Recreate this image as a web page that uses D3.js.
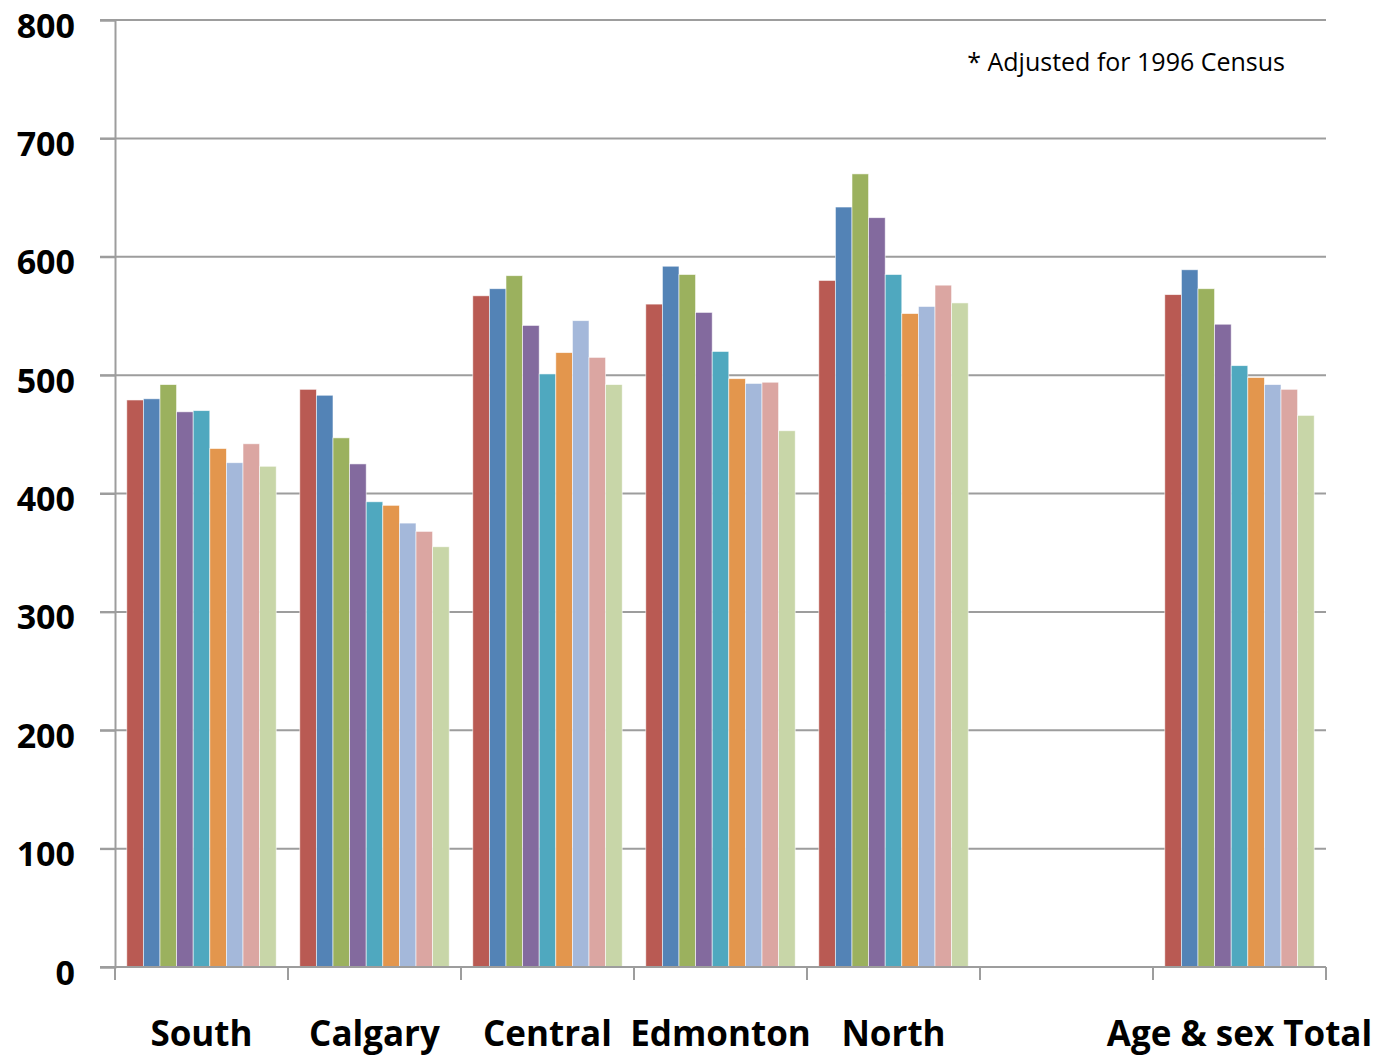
<!DOCTYPE html>
<html>
<head>
<meta charset="utf-8">
<script src="https://cdn.jsdelivr.net/npm/d3@7"></script>
<style>
  body { margin: 0; background: #fff; }
  #chart { width: 1381px; height: 1058px; }
</style>
</head>
<body>
<div id="chart"></div>
<script>
// categories along the x axis (one empty slot, as in the original)
const categories = ['South', 'Calgary', 'Central', 'Edmonton', 'North', '', 'Age & sex Total'];

// nine series per category
const series = ['s1', 's2', 's3', 's4', 's5', 's6', 's7', 's8', 's9'];
const colours = ['#B95A53', '#5383B6', '#9BB15E', '#836A9E', '#4FA8BF', '#E3964D', '#A4B8DA', '#DBA6A2', '#C8D6A8'];

const south    = [479, 480, 492, 469, 470, 438, 426, 442, 423];
const calgary  = [488, 483, 447, 425, 393, 390, 375, 368, 355];
const central  = [567, 573, 584, 542, 501, 519, 546, 515, 492];
const edmonton = [560, 592, 585, 553, 520, 497, 493, 494, 453];
const north    = [580, 642, 670, 633, 585, 552, 558, 576, 561];
const blank    = [];
const total    = [568, 589, 573, 543, 508, 498, 492, 488, 466];

const values = [south, calgary, central, edmonton, north, blank, total];
const yTicks = [0, 100, 200, 300, 400, 500, 600, 700, 800];
const note = '* Adjusted for 1996 Census';

const canvas = document.querySelector('#chart');
var margin = {top: 20, right: 55, bottom: 91, left: 115},
    width = 1381 - margin.left - margin.right,
    height = 1058 - margin.top - margin.bottom;

var svg = d3.select(canvas).append('svg')
    .attr('width', 1381)
    .attr('height', 1058)
  .append('g')
    .attr('transform', 'translate(' + margin.left + ',' + margin.top + ')');

var x0 = d3.scaleBand().domain(d3.range(categories.length)).range([0, width]).padding(0);
var x1 = d3.scaleBand().domain(series).range([0, x0.bandwidth()]).paddingInner(0).paddingOuter(0.71);
var y = d3.scaleLinear().domain([0, 800]).range([height, 0]);

// grid lines
svg.append('g')
  .selectAll('line')
  .data(yTicks.filter(d => d > 0))
  .enter().append('line')
    .attr('x1', -15)
    .attr('x2', width)
    .attr('y1', d => y(d))
    .attr('y2', d => y(d))
    .attr('stroke', '#9d9d9d')
    .attr('stroke-width', 2);

// bars
const groups = svg.append('g')
  .selectAll('g')
  .data(values)
  .enter().append('g')
    .attr('transform', (d, i) => 'translate(' + x0(i) + ',0)');

groups.selectAll('rect')
  .data(d => d.map((v, j) => ({key: series[j], value: v, colour: colours[j]})))
  .enter().append('rect')
    .attr('x', d => x1(d.key))
    .attr('y', d => y(d.value))
    .attr('width', x1.bandwidth())
    .attr('height', d => height - y(d.value))
    .attr('fill', d => d.colour)
    .attr('stroke', '#ffffff')
    .attr('stroke-opacity', 0.7)
    .attr('stroke-width', 0.8);

// y axis
const yAxis = d3.axisLeft(y).tickValues(yTicks).tickSize(15).tickPadding(25);
const yAxisGroup = svg.append('g').call(yAxis);
yAxisGroup.selectAll('line').attr('stroke', '#9d9d9d').attr('stroke-width', 2);
yAxisGroup.select('path.domain').attr('stroke', '#9d9d9d').attr('stroke-width', 2);
yAxisGroup.selectAll('text')
  .attr('font-family', '"Open Sans", sans-serif')
  .attr('font-weight', 'bold')
  .attr('font-size', '34px')
  .attr('dy', '0.5em')
  .attr('fill', '#000');

// x axis: ticks at category boundaries
const xAxisGroup = svg.append('g').attr('transform', 'translate(0,' + height + ')');
xAxisGroup.append('line')
  .attr('x1', -15).attr('x2', width)
  .attr('stroke', '#9d9d9d').attr('stroke-width', 2);
xAxisGroup.selectAll('line.tick')
  .data(d3.range(categories.length + 1))
  .enter().append('line')
    .attr('class', 'tick')
    .attr('x1', d => d * x0.step())
    .attr('x2', d => d * x0.step())
    .attr('y1', 0)
    .attr('y2', 13)
    .attr('stroke', '#9d9d9d')
    .attr('stroke-width', 2);
xAxisGroup.selectAll('text')
  .data(categories)
  .enter().append('text')
    .attr('x', (d, i) => x0(i) + x0.bandwidth() / 2)
    .attr('y', 79)
    .attr('text-anchor', 'middle')
    .attr('font-family', '"Open Sans", sans-serif')
    .attr('font-weight', 'bold')
    .attr('font-size', '35px')
    .text(d => d);

// note
svg.append('text')
  .attr('x', 1285 - margin.left)
  .attr('y', 71 - margin.top)
  .attr('text-anchor', 'end')
  .attr('font-family', '"Open Sans", sans-serif')
  .attr('font-size', '25px')
  .text(note);
</script>
</body>
</html>
